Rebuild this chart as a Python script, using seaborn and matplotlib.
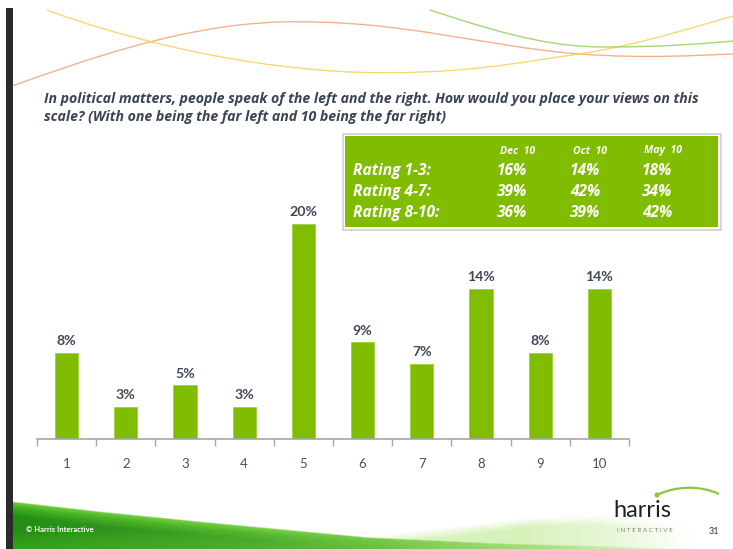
import numpy as np
import matplotlib
matplotlib.use("Agg")
import matplotlib.pyplot as plt
from matplotlib.path import Path
from matplotlib.patches import PathPatch, Rectangle, Circle
import seaborn as sns

# ---------------- data ----------------
ratings = ['1', '2', '3', '4', '5', '6', '7', '8', '9', '10']
shares = [8, 3, 5, 3, 20, 9, 7, 14, 8, 14]

table_periods = ['Dec  10', 'Oct  10', 'May  10']
table_groups = ['Rating 1-3:', 'Rating 4-7:', 'Rating 8-10:']
dec_10 = [16, 39, 36]
oct_10 = [14, 42, 39]
may_10 = [18, 34, 42]

title_lines = ["In political matters, people speak of the left and the right. How would you place your views on this",
               "scale? (With one being the far left and 10 being the far right)"]

# ---------------- style ----------------
sns.set_style('white')
plt.rcParams['font.family'] = ['Lato', 'DejaVu Sans']
OPEN = ['Open Sans', 'DejaVu Sans']

BAR = '#80bc00'
TXT = '#3b4453'
W, H = 733, 549

fig = plt.figure(figsize=(W / 100, H / 100), dpi=100)
fig.patch.set_facecolor('white')

# background / decoration axes in pixel coordinates
bg = fig.add_axes([0, 0, 1, 1], zorder=0)
bg.axis('off')

# dark left bar
bg.add_patch(Rectangle((6, 8), 6.5, H, color='#2b2b2b', lw=0, zorder=5))

# decorative curves at top
def bez(pts, color, lw=1.0):
    verts = [pts[0]]
    codes = [Path.MOVETO]
    for i in range(1, len(pts), 3):
        verts += pts[i:i + 3]
        codes += [Path.CURVE4] * 3
    bg.add_patch(PathPatch(Path(verts, codes), fc='none', ec=color, lw=lw, alpha=0.85))

bez([(12, 86), (80, 62), (180, 25), (280, 22), (400, 19), (480, 46), (579, 54),
     (650, 59), (700, 55), (733, 54)], '#eea57a')
bez([(47, 10), (100, 30), (220, 66), (350, 72), (460, 76), (520, 62), (579, 54),
     (640, 45), (700, 25), (733, 16)], '#f3d35a')
bez([(430, 10), (520, 40), (560, 47), (607, 47), (660, 47), (700, 44), (733, 41)], '#9acd5e')

# bottom green swoosh (RGBA gradient images)
xs = np.arange(W) + 0.5
ys = np.arange(490, H) + 0.5
X, Y = np.meshgrid(xs, ys)

# light haze on the right
top_h = np.interp(xs, [280, 450, 533, 600, 690], [545, 527, 517, 515, 522])
a_h = np.clip((Y - top_h[None, :]) / 10, 0, 1) * np.interp(X, [280, 380, 520, 610, 690], [0, 0.55, 0.6, 0.35, 0])
haze = np.zeros(X.shape + (4,))
haze[..., 0], haze[..., 1], haze[..., 2] = 0.74, 0.91, 0.55
haze[..., 3] = a_h
bg.imshow(haze, extent=(0, W, H, 490), origin='upper', aspect='auto', zorder=1, interpolation='bilinear')

# main swoosh
top = np.interp(xs, [12, 100, 200, 370, 500, 650, 733], [501, 511, 521, 537, 543, 547, 549])
d = Y - top[None, :]
alpha = np.clip(d / 1.5, 0, 1) * np.interp(X, [0, 11.5, 12.5, 380, 560, 690], [0, 0, 1, 1, 0.55, 0])
d_st = [0, 3, 7, 15, 60]
rr = np.interp(d, d_st, [0.50, 0.36, 0.24, 0.14, 0.14])
gg = np.interp(d, d_st, [0.82, 0.76, 0.68, 0.55, 0.55])
bb = np.interp(d, d_st, [0.30, 0.18, 0.12, 0.08, 0.08])
low = np.interp(Y, [530, 540, 546, 549], [0, 0.5, 0.7, 0.7])
rr, gg, bb = rr + (0.22 - rr) * low, gg + (0.66 - gg) * low, bb + (0.10 - bb) * low
wx = np.interp(X, [12, 250, 420, 650], [0, 0.25, 0.6, 0.9])
rr, gg, bb = rr + (0.62 - rr) * wx, gg + (0.86 - gg) * wx, bb + (0.40 - bb) * wx
sw = np.dstack([rr, gg, bb, alpha])
bg.imshow(sw, extent=(0, W, H, 490), origin='upper', aspect='auto', zorder=2, interpolation='bilinear')

bg.set_xlim(0, W)
bg.set_ylim(H, 0)

bg.text(26, 529, '\u00a9 Harris Interactive', color='white', fontsize=5.5,
        fontweight='bold', va='center', ha='left', zorder=3)

# harris logo
bg.text(613, 517, 'harris', fontsize=17, color='#222222', va='baseline', ha='left',
        fontweight='normal', zorder=3)
bg.text(617, 531, 'I N T E R A C T I V E', fontsize=4.5, color='#808080', va='center', ha='left', zorder=3)
bg.text(709, 531, '31', fontsize=6.5, color='#333333', va='center', ha='left', zorder=3)
bg.add_patch(PathPatch(Path([(657, 495), (675, 486), (700, 485), (719, 494)],
                            [Path.MOVETO, Path.CURVE4, Path.CURVE4, Path.CURVE4]),
                       fc='none', ec='#8cc63f', lw=1.6, zorder=3))
bg.add_patch(Circle((657, 495), 1.8, color='#8cc63f', zorder=3))

# title
for ty, line in zip([103, 121], title_lines):
    bg.text(44, ty, line, fontsize=10.2, fontweight='bold', fontstyle='italic', family=OPEN,
            color=TXT, va='baseline', ha='left', zorder=3)

# summary box
bg.add_patch(Rectangle((342.5, 133.5), 378, 96, fc='white', ec='#cfcfcf', lw=1.2, zorder=3))
bg.add_patch(Rectangle((345, 136), 373, 91, fc=BAR, ec='none', zorder=4))
col_hdr_x = [518, 590, 663]
col_val_x = [497, 570, 642]
for hx, lab in zip(col_hdr_x, table_periods):
    bg.text(hx, 151, lab, fontsize=7.6, fontweight='bold', fontstyle='italic', family=OPEN,
            color='white', ha='center', va='center', zorder=5)
row_y = [171, 192, 213]
for ry, lab, vals in zip(row_y, table_groups, zip(dec_10, oct_10, may_10)):
    bg.text(353, ry, lab, fontsize=11.2, fontweight='bold', fontstyle='italic', family=OPEN,
            color='white', ha='left', va='center', zorder=5)
    for vx, v in zip(col_val_x, vals):
        bg.text(vx, ry, f'{v}%', fontsize=11.2, fontweight='bold', fontstyle='italic', family=OPEN,
                color='white', ha='left', va='center', zorder=5)

# ---------------- chart ----------------
ymax = 22
ax = fig.add_axes([37 / W, 110 / H, 592 / W, ymax * 10.75 / H], zorder=2)
ax.patch.set_alpha(0)
sns.barplot(x=ratings, y=shares, color=BAR, saturation=1, width=0.39, ax=ax,
            edgecolor='#9fd040', linewidth=0.6)
ax.set_xlim(-0.5, len(ratings) - 0.5)
ax.set_ylim(0, ymax)
ax.set_xlabel('')
ax.set_ylabel('')
ax.set_yticks([])
for s in ['top', 'right', 'left']:
    ax.spines[s].set_visible(False)
ax.spines['bottom'].set_color('#a6a6a6')
ax.spines['bottom'].set_linewidth(1.2)
ax.set_xticks(np.arange(-0.5, len(ratings)), minor=True)
ax.tick_params(axis='x', which='minor', length=5, width=1, color='#a6a6a6', direction='out', bottom=True)
ax.tick_params(axis='x', which='major', length=0, pad=14, labelsize=9.5, labelcolor='#4a5060')
ax.bar_label(ax.containers[0], labels=[f'{v}%' for v in shares], padding=4,
             fontsize=10.2, fontweight='bold', color='#404858')

fig.savefig('out.png', dpi=100, facecolor='white')
